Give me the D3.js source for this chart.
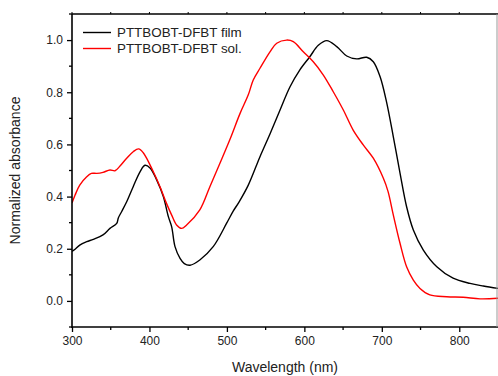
<!DOCTYPE html>
<html><head><meta charset="utf-8">
<script src="https://cdn.jsdelivr.net/npm/d3@7"></script>
<style>body{margin:0;background:#fff}svg{display:block}text{font-family:Arial,"Liberation Sans",sans-serif;fill:#222}</style>
</head><body>
<svg id="c" width="498" height="376"></svg>
<script>
const filmWl = [300,304,310,319,327.5,340,349,357.7,359.8,364,370.6,379,387.8,394.2,400.7,409.3,417.9,424.4,428.7,433,439.5,445,452.4,465,482.3,499.5,508.3,515.8,527.6,542.7,555.6,568.6,581.5,594,607,618,628.9,641.8,654.7,667.6,680.5,689,697.7,706,714.8,723.5,732,740.7,753.6,771,792,813.9,831,850];
const filmAbs = [0.19,0.198,0.214,0.227,0.236,0.253,0.278,0.297,0.318,0.342,0.38,0.438,0.495,0.52,0.51,0.464,0.40,0.323,0.284,0.208,0.163,0.143,0.137,0.157,0.208,0.297,0.345,0.38,0.444,0.553,0.64,0.732,0.821,0.885,0.936,0.98,0.998,0.975,0.939,0.928,0.934,0.917,0.86,0.764,0.63,0.49,0.361,0.272,0.195,0.131,0.087,0.067,0.057,0.048];
const solWl = [300,304,310,319,325,332,340,349,355.5,362,370.6,379,386,392,405,413.6,422,428.7,435,441.6,448,465,478,491,504,517,527.6,534,542.7,555.6,564.3,577,585.7,598.6,611.5,624.5,637.3,650.3,663,676,689,702,708,714.8,723.5,732,740.7,749.3,762,783.8,805,826.8,850];
const solAbs = [0.375,0.406,0.444,0.476,0.489,0.489,0.493,0.502,0.499,0.517,0.547,0.572,0.583,0.568,0.495,0.438,0.374,0.329,0.291,0.278,0.291,0.349,0.438,0.528,0.62,0.719,0.79,0.847,0.892,0.955,0.988,1.0,0.994,0.955,0.917,0.866,0.802,0.732,0.655,0.598,0.547,0.47,0.42,0.33,0.221,0.131,0.08,0.048,0.023,0.016,0.014,0.008,0.01];
const seriesNames = ["PTTBOBT-DFBT film","PTTBOBT-DFBT sol."];
const seriesColors = ["#000000","#ff0000"];
const xTicks = [300,400,500,600,700,800];
const yTicks = [0.0,0.2,0.4,0.6,0.8,1.0];

const svg = d3.select("#c");
const L=72,R=498,T=14,B=327;
const x = d3.scaleLinear().domain([300,850]).range([L,R]);
const y = d3.scaleLinear().domain([-0.1,1.1]).range([B,T]);

svg.append("clipPath").attr("id","cp").append("rect").attr("x",L).attr("y",T).attr("width",R-L).attr("height",B-T);
const line = d3.line().x(d=>x(d[0])).y(d=>y(d[1])).curve(d3.curveCatmullRom.alpha(0.5));
const data = [d3.zip(filmWl,filmAbs), d3.zip(solWl,solAbs)];
data.forEach((d,i)=>{
  svg.append("path").datum(d).attr("d",line).attr("fill","none").attr("stroke",seriesColors[i]).attr("stroke-width",1.4).attr("clip-path","url(#cp)");
});

// axes
const xMinor = d3.range(350,850,100);
const yMinor = d3.range(-0.1,1.11,0.2).map(v=>+v.toFixed(2));
const gx = svg.append("g").attr("transform",`translate(0,${B})`)
  .call(d3.axisBottom(x).tickValues(xTicks).tickSize(5).tickPadding(4).tickFormat(d3.format("d")));
const gy = svg.append("g").attr("transform",`translate(${L},0)`)
  .call(d3.axisLeft(y).tickValues(yTicks).tickSize(5).tickPadding(4).tickFormat(d3.format(".1f")));
[gx,gy].forEach(g=>{g.select(".domain").remove();g.selectAll("line").attr("stroke","#000").attr("stroke-width",1.3);g.selectAll("text").attr("font-size",12).attr("fill","#222").style("font-family","Arial, 'Liberation Sans', sans-serif");});
svg.append("g").selectAll("line").data(xMinor).join("line").attr("x1",d=>x(d)).attr("x2",d=>x(d)).attr("y1",B).attr("y2",B+3).attr("stroke","#000").attr("stroke-width",1.3);
svg.append("g").selectAll("line").data(yMinor).join("line").attr("y1",d=>y(d)).attr("y2",d=>y(d)).attr("x1",L).attr("x2",L-3).attr("stroke","#000").attr("stroke-width",1.3);
// top ticks
svg.append("g").selectAll("line").data(xTicks.concat(xMinor)).join("line").attr("x1",d=>x(d)).attr("x2",d=>x(d)).attr("y1",T).attr("y2",T-2).attr("stroke","#000").attr("stroke-width",1);
// frame
svg.append("line").attr("x1",L).attr("x2",R).attr("y1",B).attr("y2",B).attr("stroke","#000").attr("stroke-width",1.6);
svg.append("line").attr("x1",L).attr("x2",R).attr("y1",T).attr("y2",T).attr("stroke","#000").attr("stroke-width",1.6);
svg.append("line").attr("x1",L).attr("x2",L).attr("y1",T).attr("y2",B+1).attr("stroke","#000").attr("stroke-width",1.6);
svg.append("line").attr("x1",R-1).attr("x2",R-1).attr("y1",T).attr("y2",B).attr("stroke","#999").attr("stroke-width",1);

// titles
svg.append("text").attr("x",(L+R)/2).attr("y",372).attr("text-anchor","middle").attr("font-size",14).text("Wavelength (nm)");
svg.append("text").attr("transform",`translate(20,${(T+B)/2}) rotate(-90)`).attr("text-anchor","middle").attr("font-size",14).text("Normalized absorbance");

// legend
const lg = svg.append("g");
seriesNames.forEach((n,i)=>{
  const yy = 32.5 + i*16;
  lg.append("line").attr("x1",83).attr("x2",111).attr("y1",yy).attr("y2",yy).attr("stroke",seriesColors[i]).attr("stroke-width",1.4);
  lg.append("text").attr("x",117).attr("y",yy+4.5).attr("font-size",13.4).text(n);
});
</script>
</body></html>
